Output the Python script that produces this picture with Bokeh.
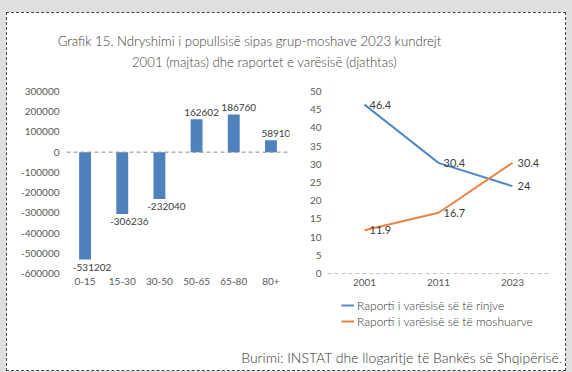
from bokeh.plotting import figure
from bokeh.models import (ColumnDataSource, Label, LabelSet, Legend, LegendItem, Span,
                          FactorRange, Range1d, SingleIntervalTicker,
                          NumeralTickFormatter, Column, Row)
from bokeh.embed import file_html
from bokeh.resources import INLINE

# ---------------- data ----------------
title_lines = ["Grafik 15. Ndryshimi i popullsisë sipas grup-moshave 2023 kundrejt",
               "2001 (majtas) dhe raportet e varësisë (djathtas)"]
age_groups = ["0-15", "15-30", "30-50", "50-65", "65-80", "80+"]
pop_change = [-531202, -306236, -232040, 162602, 186760, 58910]
years = ["2001", "2011", "2023"]
young_ratio = [46.4, 30.4, 24]
old_ratio = [11.9, 16.7, 30.4]
series_names = ["Raporti i varësisë së të rinjve", "Raporti i varësisë së të moshuarve"]
source_note = "Burimi: INSTAT dhe llogaritje të Bankës së Shqipërisë."

FONT = "Lato"
LIGHT = "Lato Light"
TXT = "#404040"
TICK = "#595959"
BAR = "#4F81BD"
BLUE = "#5089C6"
ORANGE = "#EC8448"
PAGE_BG = "#dfdfdf"


def style_axes(p):
    for ax in (p.xaxis + p.yaxis):
        ax.axis_line_color = None
        ax.major_tick_line_color = None
        ax.minor_tick_line_color = None
        ax.major_label_text_font = FONT
        ax.major_label_text_font_size = "10px"
        ax.major_label_text_color = TICK
    p.xgrid.grid_line_color = None
    p.ygrid.grid_line_color = None
    p.outline_line_color = None


def blank(p):
    p.axis.visible = False
    p.grid.visible = False
    p.outline_line_color = None


# ---------------- title ----------------
title_fig = figure(width=558, height=65, toolbar_location=None, output_backend="svg",
                   x_range=(0, 1), y_range=(0, 1), min_border=0)
blank(title_fig)
for txt, xx, yy in zip(title_lines, [242, 257], [38, 17]):
    title_fig.add_layout(Label(x=xx, y=yy, x_units="screen", y_units="screen", text=txt,
                               text_align="center", text_baseline="middle",
                               text_font=LIGHT, text_font_size="13.2px", text_color=TXT))

# ---------------- left: bars ----------------
left = figure(width=293, height=218, toolbar_location=None, output_backend="svg",
              x_range=FactorRange(factors=age_groups, range_padding=0),
              y_range=Range1d(-600000, 300000),
              min_border_left=59, min_border_right=11, min_border_top=8, min_border_bottom=23)
style_axes(left)
left.yaxis.ticker = SingleIntervalTicker(interval=100000)
left.yaxis.formatter = NumeralTickFormatter(format="0")
left.yaxis.major_tick_out = 0
left.xaxis.major_tick_out = 0
left.yaxis.major_label_standoff = 3
left.xaxis.major_label_standoff = 4
left.add_layout(Span(location=0, dimension="width", line_color="#8c8c8c",
                     line_dash="4 3", line_width=1))
bar_src = ColumnDataSource(dict(cat=age_groups, val=pop_change))
left.vbar(x="cat", top="val", width=0.32, source=bar_src, fill_color=BAR, line_color=None)

pos = [(c, v) for c, v in zip(age_groups, pop_change) if v >= 0]
neg = [(c, v) for c, v in zip(age_groups, pop_change) if v < 0]
pos_src = ColumnDataSource(dict(cat=[c for c, _ in pos], val=[v for _, v in pos],
                                lab=[str(v) for _, v in pos]))
neg_src = ColumnDataSource(dict(cat=[c for c, _ in neg], val=[v for _, v in neg],
                                lab=[str(v) for _, v in neg]))
left.add_layout(LabelSet(x="cat", y="val", text="lab", source=pos_src, text_align="center",
                         text_baseline="bottom", y_offset=3, x_offset=5,
                         text_font_size="10px", text_color=TXT,
                         text_font={"value": FONT}))
left.add_layout(LabelSet(x="cat", y="val", text="lab", source=neg_src, text_align="center",
                         text_baseline="top", y_offset=-4, x_offset=7,
                         text_font_size="10px", text_color=TXT,
                         text_font={"value": FONT}))

# ---------------- right: lines ----------------
right = figure(width=265, height=218, toolbar_location=None, output_backend="svg",
               x_range=FactorRange(factors=years, range_padding=0),
               y_range=Range1d(0, 50),
               min_border_left=27, min_border_right=16, min_border_top=13, min_border_bottom=20)
style_axes(right)
right.yaxis.ticker = SingleIntervalTicker(interval=5)
right.yaxis.major_tick_out = 0
right.xaxis.major_tick_out = 0
right.yaxis.major_label_standoff = 2
right.xaxis.major_label_standoff = 5
right.add_layout(Span(location=0, dimension="width", line_color="#8c8c8c",
                      line_dash="4 3", line_width=1))
ln_src = ColumnDataSource(dict(yr=years, young=young_ratio, old=old_ratio,
                               ylab=[str(v) for v in young_ratio],
                               olab=[str(v) for v in old_ratio]))
right.line(x="yr", y="young", source=ln_src, line_color=BLUE, line_width=2)
right.line(x="yr", y="old", source=ln_src, line_color=ORANGE, line_width=2)
for col, lab in (("young", "ylab"), ("old", "olab")):
    right.text(x="yr", y=col, text=lab, source=ln_src, text_align="left",
               text_baseline="middle", x_offset=5, text_font_size="11px",
               text_color=TXT, text_font={"value": FONT})

# ---------------- footer: legend + source ----------------
foot = figure(width=558, height=74, toolbar_location=None, output_backend="svg",
              x_range=(0, 1), y_range=(0, 1), min_border=0)
blank(foot)
# legend swatches: the same series, which fall outside this strip's 0..1 frame
k1 = foot.line(x="young", y="old", source=ln_src, line_color=BLUE, line_width=2)
k2 = foot.line(x="old", y="young", source=ln_src, line_color=ORANGE, line_width=2)
legend = Legend(items=[LegendItem(label=series_names[0], renderers=[k1]),
                       LegendItem(label=series_names[1], renderers=[k2])],
                location=(334, 41), orientation="vertical",
                background_fill_alpha=0, border_line_color=None,
                padding=0, margin=0, spacing=0, glyph_width=13, glyph_height=16,
                label_height=16, label_standoff=3,
                label_text_font=LIGHT, label_text_font_size="12px",
                label_text_color="#333333")
foot.add_layout(legend, "center")
foot.add_layout(Label(x=555, y=13, x_units="screen", y_units="screen", text=source_note,
                      text_align="right", text_baseline="middle",
                      text_font=LIGHT, text_font_size="14px", text_color="#333333"))

box = Column(children=[title_fig, Row(children=[left, right]), foot],
             styles={"border": "1px dashed #444444", "background-color": "white"})
page = Column(children=[box],
              styles={"background-color": PAGE_BG, "padding": "12px 6px 1px 6px"})

open("out.html", "w").write(file_html(page, INLINE))
